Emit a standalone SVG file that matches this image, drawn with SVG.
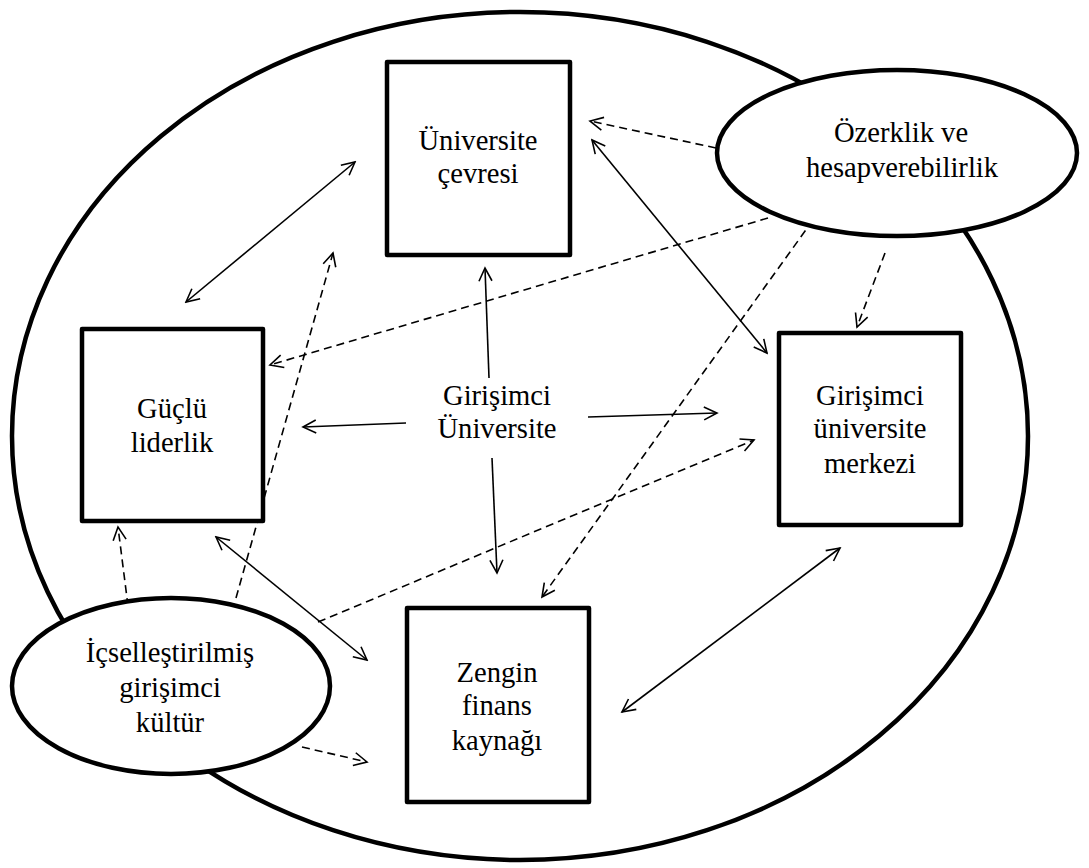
<svg xmlns="http://www.w3.org/2000/svg" width="1089" height="868" viewBox="0 0 1089 868">
<style>
.frame{fill:none;stroke:#000;stroke-width:4.5}
.box{fill:#fff;stroke:#000;stroke-width:4.5;stroke-linejoin:round}
.oval{fill:#fff;stroke:#000;stroke-width:4.5}
.t{font-family:'Liberation Serif','DejaVu Serif',serif;font-size:28.6px;fill:#000;text-anchor:middle}
.s{fill:none;stroke:#000;stroke-width:1.6}
.d{fill:none;stroke:#000;stroke-width:1.6;stroke-dasharray:8 5}
</style>
<defs>
<marker id="ah" viewBox="0 0 16 16" refX="14" refY="8" markerWidth="16" markerHeight="16" markerUnits="userSpaceOnUse" orient="auto-start-reverse">
<path d="M1,1.5 L14,8 L1,14.5" fill="none" stroke="#000" stroke-width="1.6"/>
</marker>
</defs>
<ellipse class="frame" cx="520" cy="436" rx="508" ry="424"/>
<g id="connectors">
<line class="s" x1="355" y1="162" x2="186" y2="302" marker-start="url(#ah)" marker-end="url(#ah)"/>
<line class="s" x1="592" y1="140" x2="767" y2="353" marker-start="url(#ah)" marker-end="url(#ah)"/>
<line class="s" x1="216" y1="537" x2="367" y2="660" marker-start="url(#ah)" marker-end="url(#ah)"/>
<line class="s" x1="622" y1="712" x2="840" y2="548" marker-start="url(#ah)" marker-end="url(#ah)"/>
<line class="s" x1="489" y1="378" x2="485" y2="268" marker-end="url(#ah)"/>
<line class="s" x1="406" y1="423" x2="303" y2="427" marker-end="url(#ah)"/>
<line class="s" x1="588" y1="417" x2="717" y2="413" marker-end="url(#ah)"/>
<line class="s" x1="492" y1="458" x2="497" y2="573" marker-end="url(#ah)"/>
<line class="d" x1="716" y1="148" x2="590" y2="121" marker-end="url(#ah)"/>
<line class="d" x1="768" y1="218" x2="270" y2="365" marker-end="url(#ah)"/>
<line class="d" x1="813" y1="220" x2="542" y2="597" marker-end="url(#ah)"/>
<line class="d" x1="885" y1="253" x2="857" y2="327" marker-end="url(#ah)"/>
<line class="d" x1="128" y1="606" x2="118" y2="527" marker-end="url(#ah)"/>
<line class="d" x1="236" y1="598" x2="333" y2="253" marker-end="url(#ah)"/>
<line class="d" x1="318" y1="622" x2="754" y2="440" marker-end="url(#ah)"/>
<line class="d" x1="302" y1="747" x2="367" y2="762" marker-end="url(#ah)"/>
</g>
<g id="universite-cevresi">
<rect class="box" x="387" y="62" width="183" height="193"/>
<text class="t" x="478" y="150">Üniversite</text>
<text class="t" x="478" y="183">çevresi</text>
</g>
<g id="guclu-liderlik">
<rect class="box" x="82" y="329" width="181" height="192"/>
<text class="t" x="172" y="418">Güçlü</text>
<text class="t" x="172" y="452">liderlik</text>
</g>
<g id="merkez">
<rect class="box" x="779" y="333" width="182" height="192"/>
<text class="t" x="870" y="405">Girişimci</text>
<text class="t" x="870" y="438">üniversite</text>
<text class="t" x="870" y="473">merkezi</text>
</g>
<g id="zengin-finans">
<rect class="box" x="407" y="608" width="182" height="194"/>
<text class="t" x="497" y="682">Zengin</text>
<text class="t" x="497" y="715">finans</text>
<text class="t" x="497" y="750">kaynağı</text>
</g>
<g id="girisimci-universite">
<text class="t" x="497" y="405">Girişimci</text>
<text class="t" x="497" y="438">Üniversite</text>
</g>
<g id="ozerklik">
<ellipse class="oval" cx="897" cy="153" rx="180" ry="83"/>
<text class="t" x="901" y="142">Özerklik ve</text>
<text class="t" x="902" y="177">hesapverebilirlik</text>
</g>
<g id="kultur">
<ellipse class="oval" cx="171" cy="686" rx="159" ry="88"/>
<text class="t" x="170" y="662">İçselleştirilmiş</text>
<text class="t" x="170" y="697">girişimci</text>
<text class="t" x="170" y="732">kültür</text>
</g>
</svg>
